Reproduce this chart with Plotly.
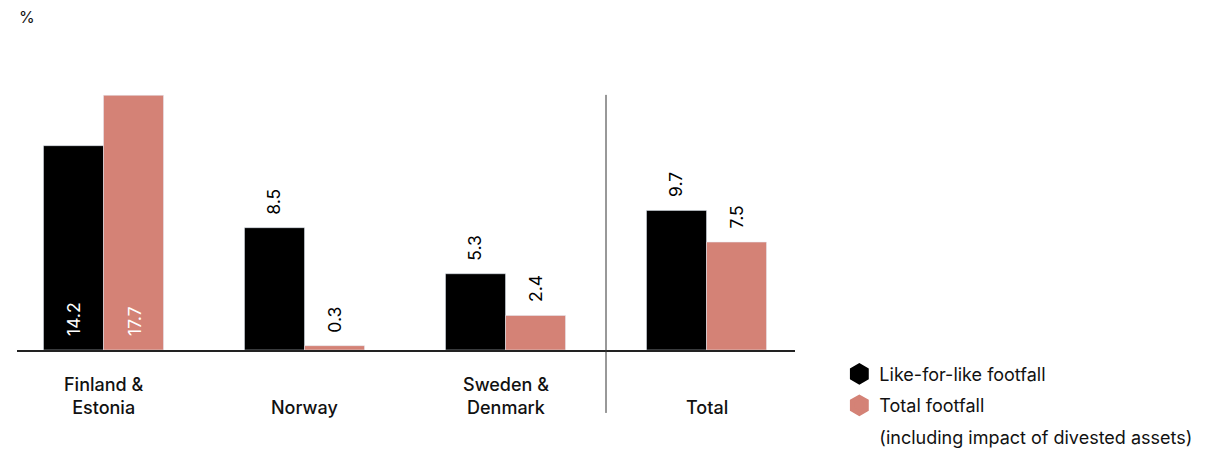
import plotly.graph_objects as go

categories = ["Finland & Estonia", "Norway", "Sweden & Denmark", "Total"]
cat_labels = ["Finland &<br>Estonia", "Norway", "Sweden &<br>Denmark", "Total"]
like_for_like = [14.2, 8.5, 5.3, 9.7]
total_footfall = [17.7, 0.3, 2.4, 7.5]
series_names = ["Like-for-like footfall", "Total footfall", "(including impact of divested assets)"]

BLACK = "#000000"
PINK = "#d48276"
FONT = "Inter"

x_idx = list(range(len(categories)))

fig = go.Figure()
fig.add_trace(go.Bar(x=x_idx, y=like_for_like, marker_color=BLACK, showlegend=False,
                     hoverinfo="skip"))
fig.add_trace(go.Bar(x=x_idx, y=total_footfall, marker_color=PINK, showlegend=False,
                     hoverinfo="skip"))

# legend entries (hexagon markers)
for i, (name, col) in enumerate(zip(series_names, [BLACK, PINK, "rgba(0,0,0,0)"])):
    fig.add_trace(go.Scatter(x=[None], y=[None], mode="markers", name=name,
                             legendgroup=f"g{i}",
                             marker=dict(symbol="hexagon", size=16, color=col,
                                         line=dict(color=col, width=5))))

annotations = []
half = 30.5
for i, (a, b) in enumerate(zip(like_for_like, total_footfall)):
    inside = i == 0
    for val, shift in ((a, -half), (b, half)):
        annotations.append(dict(
            x=i, y=0 if inside else val, xref="x", yref="y",
            text=f"{val:.1f}", textangle=-90, showarrow=False,
            xanchor="center", yanchor="bottom", xshift=shift,
            yshift=12 if inside else 11,
            font=dict(family=FONT, size=17.5, color="white" if inside else BLACK)))
    annotations.append(dict(
        x=i, y=0, xref="x", yref="paper", text=cat_labels[i], showarrow=False,
        xanchor="center", yanchor="bottom", yshift=-70,
        font=dict(family=FONT, size=18, color="#111", weight=500)))

annotations.append(dict(x=0, y=1.286, xref="paper", yref="paper", text="%",
                        showarrow=False, xanchor="left", yanchor="middle", xshift=0,
                        font=dict(family=FONT, size=16, color="#111")))

fig.update_layout(
    width=1211, height=451,
    margin=dict(l=17, r=416, t=91, b=101, autoexpand=False),
    paper_bgcolor="white", plot_bgcolor="white",
    barmode="group", bargap=0.403, bargroupgap=0,
    xaxis=dict(range=[-0.4303, 3.4403], showticklabels=False, showgrid=False,
               zeroline=False, showline=True, linecolor="#222", linewidth=2,
               ticks="", fixedrange=True),
    yaxis=dict(range=[0, 18], visible=False, fixedrange=True),
    showlegend=True,
    legend=dict(x=1.057, xanchor="left", y=-0.022, yanchor="top",
                font=dict(family=FONT, size=18, color="#111"),
                tracegroupgap=5, traceorder="grouped", bgcolor="rgba(0,0,0,0)"),
    annotations=annotations,
    shapes=[dict(type="line", xref="x", yref="paper", x0=2.5, x1=2.5,
                 y0=-0.243, y1=0.985, line=dict(color="#333", width=1))],
)

fig.write_html("out.html")
